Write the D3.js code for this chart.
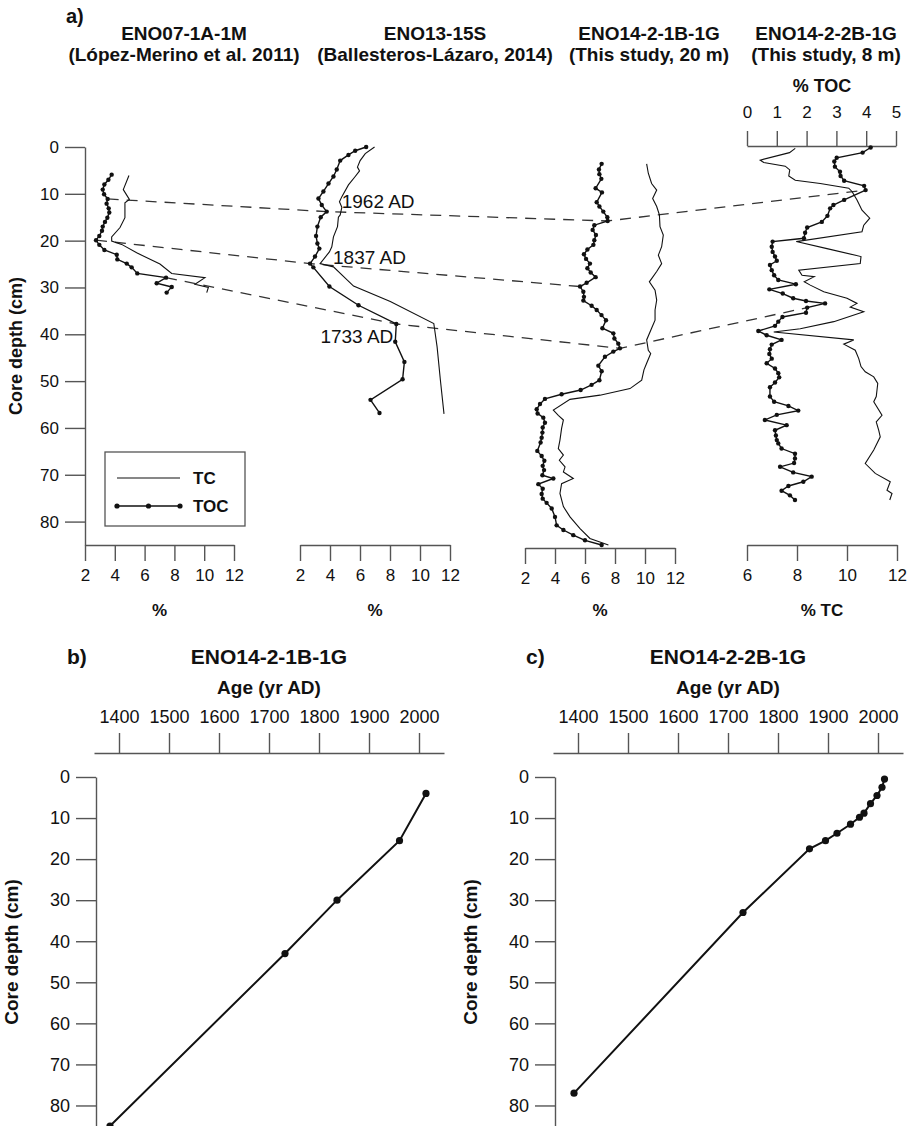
<!DOCTYPE html>
<html>
<head>
<meta charset="utf-8">
<script src="https://cdn.jsdelivr.net/npm/d3@7"></script>
<style>
  body { margin: 0; background: #fff; }
  svg { display: block; font-family: "Liberation Sans", Arial, sans-serif; }
  .axis path, .axis line { stroke: #555; stroke-width: 1.4; }
  .axis text { fill: #111; }
</style>
</head>
<body>
<svg id="chart" width="911" height="1126"></svg>
<script>
// ---- tick values ----
const depthTicks = [0, 10, 20, 30, 40, 50, 60, 70, 80];
const pctTicks = [2, 4, 6, 8, 10, 12];
const tocTicks = [0, 1, 2, 3, 4, 5];
const tcTicks = [6, 8, 10, 12];
const ageTicks = [1400, 1500, 1600, 1700, 1800, 1900, 2000];

// ---- core titles ----
const coreNames = ["ENO07-1A-1M", "ENO13-15S", "ENO14-2-1B-1G", "ENO14-2-2B-1G"];
const coreSources = ["(López-Merino et al. 2011)", "(Ballesteros-Lázaro, 2014)", "(This study, 20 m)", "(This study, 8 m)"];

// ---- profiles: [depth cm, %] ----
const eno07TC = [[6.1,4.95],[9.1,4.57],[11.2,4.98],[11.9,4.68],[15.1,4.68],[17.2,4.35],[19.2,3.79],[20.1,3.79],[20.8,4.46],[22.6,5.47],[25.0,7.03],[27.0,7.82],[27.9,10.05],[29.3,9.38],[30.0,10.28],[31.1,10.17]];
const eno07TOC = [[5.9,3.79],[7.0,3.57],[8.0,3.30],[9.1,3.19],[10.1,3.28],[11.1,3.52],[12.1,3.45],[13.1,3.59],[14.0,3.63],[15.1,3.50],[16.0,3.34],[17.0,3.19],[17.9,3.14],[19.0,2.96],[19.9,2.74],[20.9,2.96],[22.0,3.30],[23.0,4.13],[24.0,4.17],[24.9,4.80],[25.7,5.13],[27.0,5.51],[27.9,7.44],[29.1,6.81],[29.9,7.82],[31.1,7.48]];

const eno13TC = [[0,6.97],[1.4,6.35],[2.9,6.01],[4.3,5.83],[5.1,5.97],[6.3,5.68],[8.1,5.23],[10.6,4.79],[11.7,4.63],[12.9,4.79],[14.5,4.68],[15.0,4.56],[17.0,4.50],[19.2,4.23],[21.3,4.12],[22.4,3.96],[24.9,3.34],[25.6,4.23],[29.7,5.57],[33.0,8.02],[37.7,10.92],[42.7,11.14],[49.8,11.36],[57.0,11.6]];
const eno13TOC = [[0,6.41],[0.8,5.68],[1.7,5.23],[2.9,4.68],[4.8,4.45],[6.3,4.23],[7.8,3.90],[9.5,3.56],[11.0,3.23],[12.4,3.45],[13.8,3.78],[15.0,3.38],[17.0,3.16],[19.0,3.07],[20.6,3.16],[21.7,3.29],[23.4,3.00],[24.9,2.67],[25.7,2.89],[29.8,3.96],[33.8,5.90],[37.8,8.42],[41.6,8.35],[45.9,8.96],[49.6,8.84],[54.0,6.70],[56.8,7.30]];

const eno14aTC = [[3.6,10.11],[5.6,10.22],[7.8,10.44],[9.2,10.78],[11.0,10.51],[12.7,10.78],[14.5,10.96],[17.0,11.0],[18.8,11.22],[21.3,11.11],[23.1,10.89],[24.9,11.11],[26.6,10.78],[28.8,10.29],[30.6,10.67],[32.7,10.78],[34.8,10.67],[37.0,10.67],[38.7,10.44],[41.2,10.11],[43.4,10.22],[44.1,10.38],[46.2,10.11],[47.6,9.93],[49.8,9.78],[51.6,9.0],[53.0,7.0],[53.9,5.0],[56.2,3.89],[57.3,4.22],[58.3,4.56],[60.1,4.44],[62.6,4.33],[64.4,4.22],[65.8,4.56],[66.9,4.29],[68.3,4.67],[69.4,4.56],[70.8,5.22],[71.9,4.44],[74.0,4.33],[76.8,4.56],[79.0,5.0],[81.5,5.67],[83.6,6.33],[85.0,7.56]];
const eno14aTOC = [[3.6,7.11],[4.8,6.93],[5.8,6.96],[6.8,7.09],[8.8,6.71],[9.7,7.13],[11.8,6.78],[12.7,6.96],[13.8,7.22],[15.0,7.49],[15.8,7.51],[16.7,6.62],[17.7,6.51],[18.8,6.73],[19.9,6.62],[20.9,6.56],[21.9,6.16],[22.9,5.93],[23.9,6.07],[24.9,6.33],[25.9,6.16],[26.8,6.38],[27.8,6.71],[29.0,6.11],[29.8,5.67],[30.9,5.89],[32.0,5.93],[32.8,5.89],[33.9,6.44],[34.8,6.78],[35.9,7.10],[37.0,7.40],[38.7,7.16],[39.8,7.89],[40.9,7.96],[42.0,8.22],[43.0,8.33],[43.7,7.89],[44.8,7.33],[46.7,6.89],[47.9,7.11],[49.8,6.96],[50.8,6.44],[51.9,5.71],[52.8,4.44],[53.8,3.33],[54.9,3.00],[56.0,2.78],[56.9,2.84],[57.8,3.22],[58.9,3.33],[59.9,3.18],[61.0,3.16],[62.1,3.11],[63.1,3.04],[64.9,2.82],[66.0,3.11],[67.0,3.29],[68.1,3.18],[69.0,3.27],[70.1,3.16],[70.8,3.89],[72.0,2.89],[73.0,3.18],[74.1,3.11],[75.1,3.18],[76.0,3.44],[77.2,3.78],[79.0,4.00],[80.8,4.11],[81.8,4.56],[82.9,5.22],[84.0,6.00],[85.0,7.11]];

const eno14bTC = [[0.3,7.93],[1.2,7.70],[2.8,6.53],[3.3,6.67],[4.1,7.53],[4.9,7.71],[6.2,7.67],[7.1,7.93],[7.8,8.93],[8.8,10.07],[9.5,10.20],[11.3,10.40],[13.5,10.60],[15.2,10.91],[16.7,10.67],[18.1,10.60],[20.2,7.97],[21.7,9.20],[23.4,10.56],[24.9,10.53],[26.3,8.07],[27.4,8.20],[27.7,8.69],[28.8,8.29],[29.5,8.53],[30.9,9.07],[32.3,10.00],[33.4,10.40],[34.2,10.13],[35.2,10.67],[37.3,9.47],[38.8,8.13],[39.5,7.07],[41.2,10.27],[42.1,9.87],[43.4,10.33],[45.2,10.47],[46.9,10.56],[48.0,10.73],[49.1,11.07],[50.5,11.23],[53.3,11.17],[54.4,11.07],[57.3,11.40],[58.7,11.17],[60.5,11.27],[61.9,11.33],[64.7,11.07],[67.6,10.73],[69.7,11.13],[71.5,11.73],[73.3,11.60],[74.0,11.80],[75.4,11.71]];
const eno14bTOC = [[0.1,4.15],[1.2,3.88],[2.3,3.01],[3.1,2.93],[4.2,2.95],[5.3,3.12],[6.2,3.14],[7.2,3.26],[8.3,3.93],[9.2,3.98],[11.3,3.26],[12.4,2.90],[13.1,2.79],[14.7,2.70],[16.0,2.51],[17.2,2.02],[18.3,1.95],[19.5,1.91],[20.2,0.86],[21.3,0.83],[22.4,0.86],[23.4,0.94],[24.3,1.00],[25.2,0.77],[26.3,0.83],[27.4,0.91],[28.4,1.05],[29.3,1.64],[30.4,0.75],[31.3,1.20],[32.3,1.55],[32.9,1.98],[33.4,2.62],[34.3,2.02],[35.4,1.98],[36.3,1.19],[37.3,1.05],[38.2,0.94],[39.3,0.38],[40.2,0.66],[41.2,1.16],[42.2,0.83],[43.2,0.77],[44.2,0.75],[45.2,0.83],[46.2,0.66],[47.3,0.94],[48.3,1.05],[49.2,1.08],[50.3,0.94],[51.3,0.77],[53.3,0.77],[54.4,0.91],[55.3,1.39],[56.3,1.72],[57.2,1.00],[58.3,0.60],[59.4,1.33],[60.5,0.94],[61.6,0.97],[62.6,1.00],[63.3,1.05],[64.4,1.16],[65.5,1.61],[66.5,1.61],[67.5,1.58],[68.3,1.11],[69.5,1.55],[70.4,2.17],[71.5,1.89],[72.4,1.39],[73.4,1.16],[74.4,1.44],[75.4,1.61]];

// ---- dated horizons: one [depth, TOC %] anchor per core ----
const horizonLabels = ["1962 AD", "1837 AD", "1733 AD"];
const horizon1962 = [[11.1,3.52],[13.8,3.78],[15.8,7.51],[9.2,3.98]];
const horizon1837 = [[19.9,2.74],[24.9,2.67],[29.8,5.67]];
const horizon1733 = [[27.9,7.44],[37.8,8.42],[43.0,8.33],[34.3,2.02]];

// ---- age-depth models: [year AD, depth cm] ----
const ageModel1B = [[2014,4],[1961,15.5],[1836,30],[1732,43],[1382,85]];
const ageModel2B = [[2013,0.5],[2008,2.5],[1998,4.5],[1985,6.5],[1972,8.8],[1963,9.8],[1945,11.5],[1918,13.7],[1895,15.5],[1863,17.5],[1730,33],[1392,77]];

const svg = d3.select("#chart");
const ink = "#111";
const intFmt = d3.format("d");

// ================= panel a =================
const yA = d3.scaleLinear().domain([0, 85]).range([147, 545]);
const x1 = d3.scaleLinear().domain([2, 12]).range([85, 234]);
const x2 = d3.scaleLinear().domain([2, 12]).range([300, 450]);
const x3 = d3.scaleLinear().domain([2, 12]).range([525, 675]);
const x4toc = d3.scaleLinear().domain([0, 5]).range([747, 896]);
const x4tc = d3.scaleLinear().domain([6, 12]).range([747, 897]);

svg.append("text").attr("x", 66).attr("y", 23).attr("font-size", 20).attr("font-weight", "bold").attr("fill", ink).text("a)");

const titleCenters = [184, 435, 649, 826];
coreNames.forEach((n, i) => {
  svg.append("text").attr("x", titleCenters[i]).attr("y", 40).attr("text-anchor", "middle")
    .attr("font-size", 19).attr("font-weight", "bold").attr("fill", ink).text(n);
  svg.append("text").attr("x", titleCenters[i]).attr("y", 61).attr("text-anchor", "middle")
    .attr("font-size", 19).attr("font-weight", "bold").attr("fill", ink).text(coreSources[i]);
});

// depth axis
const gDepthA = svg.append("g").attr("class", "axis").attr("transform", "translate(85,0)")
  .call(d3.axisLeft(yA).tickValues(depthTicks).tickSize(20).tickSizeOuter(0).tickPadding(6));
gDepthA.selectAll("text").attr("font-size", 17).attr("font-family", null);
svg.append("text").attr("transform", `translate(22,${(yA(0) + yA(85)) / 2}) rotate(-90)`)
  .attr("text-anchor", "middle").attr("font-size", 18).attr("font-weight", "bold").attr("fill", ink).text("Core depth (cm)");

// bottom % axes
function bottomAxis(scale, ticks, y, label) {
  const g = svg.append("g").attr("class", "axis").attr("transform", `translate(0,${y})`)
    .call(d3.axisBottom(scale).tickValues(ticks).tickSize(16).tickSizeOuter(0).tickPadding(8).tickFormat(intFmt));
  g.selectAll("text").attr("font-size", 17).attr("font-family", null);
  const [r0, r1] = scale.range();
  svg.append("text").attr("x", (r0 + r1) / 2).attr("y", 616).attr("text-anchor", "middle")
    .attr("font-size", 17).attr("font-weight", "bold").attr("fill", ink).text(label);
}
bottomAxis(x1, pctTicks, 545, "%");
bottomAxis(x2, pctTicks, 545, "%");
bottomAxis(x3, pctTicks, 548, "%");
bottomAxis(x4tc, tcTicks, 545, "% TC");

// top TOC axis of the last core
const gTop = svg.append("g").attr("class", "axis").attr("transform", "translate(0,146)")
  .call(d3.axisTop(x4toc).tickValues(tocTicks).tickSize(15).tickSizeOuter(0).tickPadding(13).tickFormat(intFmt));
gTop.selectAll("text").attr("font-size", 17).attr("font-family", null);
svg.append("text").attr("x", 822).attr("y", 92).attr("text-anchor", "middle")
  .attr("font-size", 18).attr("font-weight", "bold").attr("fill", ink).text("% TOC");

// horizons (dashed)
const hx = [x1, x2, x3, x4toc];
const dashLine = d3.line().x(d => d[0]).y(d => d[1]);
[horizon1962, horizon1837, horizon1733].forEach(h => {
  const pts = h.map((p, i) => [hx[i](p[1]), yA(p[0])]);
  svg.append("path").attr("d", dashLine(pts)).attr("fill", "none")
    .attr("stroke", "#333").attr("stroke-width", 1.3).attr("stroke-dasharray", "11,8");
});
// horizon labels placed next to their ENO13-15S anchors
const lblOffsets = [[15, -4, "start"], [23, 0, "start"], [-3, 19, "end"]];
[horizon1962, horizon1837, horizon1733].forEach((h, i) => {
  const [dx, dy, anchor] = lblOffsets[i];
  svg.append("text").attr("x", x2(h[1][1]) + dx).attr("y", yA(h[1][0]) + dy)
    .attr("text-anchor", anchor).attr("font-size", 19).attr("fill", ink).text(horizonLabels[i]);
});

// profiles
function profile(xs, data, dotted) {
  const line = d3.line().x(d => xs(d[1])).y(d => yA(d[0]));
  svg.append("path").attr("d", line(data)).attr("fill", "none")
    .attr("stroke", ink).attr("stroke-width", dotted ? 1.4 : 1.1);
  if (dotted) {
    svg.append("g").selectAll("circle").data(data).join("circle")
      .attr("cx", d => xs(d[1])).attr("cy", d => yA(d[0])).attr("r", 2.2).attr("fill", ink);
  }
}
profile(x1, eno07TC, false); profile(x1, eno07TOC, true);
profile(x2, eno13TC, false); profile(x2, eno13TOC, true);
profile(x3, eno14aTC, false); profile(x3, eno14aTOC, true);
profile(x4tc, eno14bTC, false); profile(x4toc, eno14bTOC, true);

// legend
const lg = svg.append("g").attr("transform", "translate(105,452)");
lg.append("rect").attr("width", 140).attr("height", 74).attr("fill", "#fff").attr("stroke", "#555").attr("stroke-width", 1.3);
lg.append("line").attr("x1", 12).attr("x2", 75).attr("y1", 26).attr("y2", 26).attr("stroke", ink).attr("stroke-width", 1.2);
lg.append("text").attr("x", 88).attr("y", 32).attr("font-size", 17).attr("font-weight", "bold").attr("fill", ink).text("TC");
lg.append("line").attr("x1", 12).attr("x2", 75).attr("y1", 54).attr("y2", 54).attr("stroke", ink).attr("stroke-width", 1.4);
lg.selectAll("circle.k").data([12, 43.5, 75]).join("circle").attr("cx", d => d).attr("cy", 54).attr("r", 2.6).attr("fill", ink);
lg.append("text").attr("x", 88).attr("y", 60).attr("font-size", 17).attr("font-weight", "bold").attr("fill", ink).text("TOC");

// ================= panels b and c =================
const yB = d3.scaleLinear().domain([0, 85]).range([777, 1126]);
function agePanel(x0, tag, name, model) {
  const xs = d3.scaleLinear().domain([1350, 2050]).range([x0, x0 + 350]);
  const yAxisX = x0 + 2;
  svg.append("text").attr("x", x0 - 27).attr("y", 664).attr("font-size", 21).attr("font-weight", "bold").attr("fill", ink).text(tag);
  svg.append("text").attr("x", x0 + 175).attr("y", 664).attr("text-anchor", "middle").attr("font-size", 21).attr("font-weight", "bold").attr("fill", ink).text(name);
  svg.append("text").attr("x", x0 + 175).attr("y", 694).attr("text-anchor", "middle").attr("font-size", 19).attr("font-weight", "bold").attr("fill", ink).text("Age (yr AD)");
  const gx = svg.append("g").attr("class", "axis").attr("transform", "translate(0,753)")
    .call(d3.axisTop(xs).tickValues(ageTicks).tickSize(20).tickSizeOuter(0).tickPadding(10).tickFormat(intFmt));
  gx.selectAll("text").attr("font-size", 18).attr("font-family", null);
  const gy = svg.append("g").attr("class", "axis").attr("transform", `translate(${yAxisX},0)`)
    .call(d3.axisLeft(yB).tickValues(depthTicks).tickSize(20).tickSizeOuter(0).tickPadding(6));
  gy.selectAll("text").attr("font-size", 18).attr("font-family", null);
  svg.append("text").attr("transform", `translate(${x0 - 76},952) rotate(-90)`)
    .attr("text-anchor", "middle").attr("font-size", 19).attr("font-weight", "bold").attr("fill", ink).text("Core depth (cm)");
  const line = d3.line().x(d => xs(d[0])).y(d => yB(d[1]));
  svg.append("path").attr("d", line(model)).attr("fill", "none").attr("stroke", ink).attr("stroke-width", 2);
  svg.append("g").selectAll("circle").data(model).join("circle")
    .attr("cx", d => xs(d[0])).attr("cy", d => yB(d[1])).attr("r", 3.6).attr("fill", ink);
}
agePanel(94, "b)", "ENO14-2-1B-1G", ageModel1B);
agePanel(553, "c)", "ENO14-2-2B-1G", ageModel2B);
</script>
</body>
</html>
